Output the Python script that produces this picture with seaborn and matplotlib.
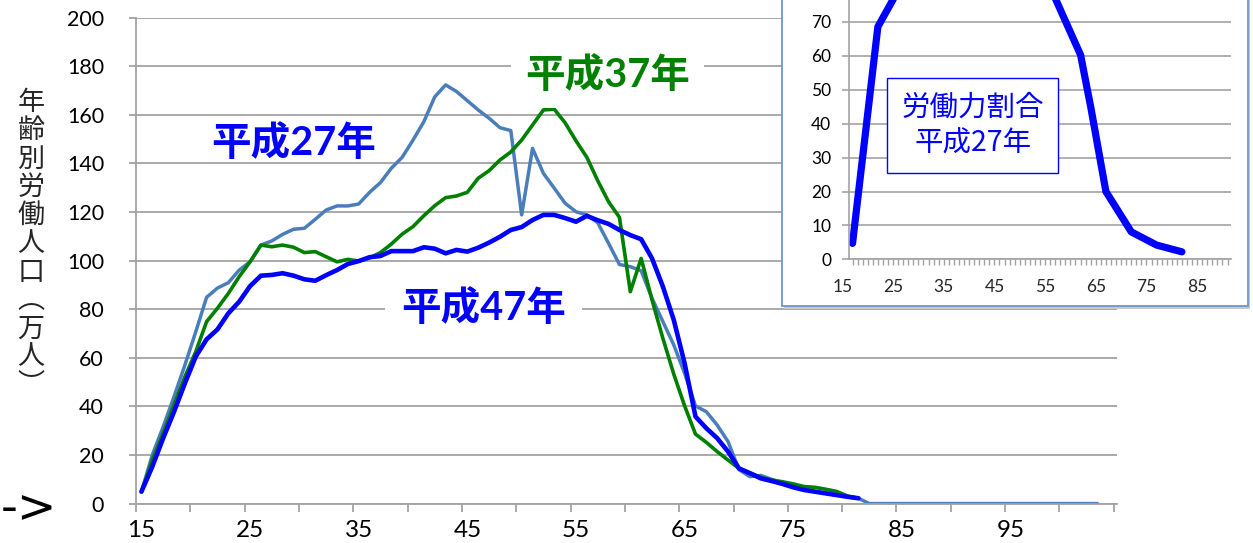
import numpy as np
import matplotlib
matplotlib.use("Agg")
import matplotlib.pyplot as plt
import seaborn as sns
from matplotlib.patches import Rectangle

# ---------------- data ----------------
ages_h27 = np.arange(15, 104)
ages_h37 = np.arange(15, 82)
ages_h47 = np.arange(15, 82)

pop_h27 = [4.9, 20.0, 31.6, 44.0, 57.0, 70.7, 84.9, 88.7, 90.9, 96.1,
           99.5, 106.4, 108.1, 110.8, 112.9, 113.3, 117.0, 120.8, 122.5, 122.5,
           123.3, 128.1, 132.1, 138.0, 142.5, 149.6, 157.2, 167.4, 172.3, 169.6,
           165.8, 162.0, 158.6, 154.7, 153.5, 118.8, 146.2, 135.9, 129.8, 123.6,
           120.1, 118.8, 115.6, 107.1, 98.4, 97.5, 95.8, 84.5, 74.9, 65.3,
           53.6, 40.2, 37.8, 32.3, 25.5, 14.0, 11.1, 11.6, 10.0, 8.6,
           7.2, 5.9, 4.9, 4.2, 3.5, 2.8, 2.2,
           0, 0, 0, 0, 0, 0, 0, 0, 0, 0, 0, 0, 0, 0, 0, 0, 0, 0, 0, 0, 0, 0]

pop_h37 = [4.9, 17.9, 28.9, 40.6, 52.2, 62.5, 74.9, 80.4, 86.5, 93.4,
           99.5, 106.4, 105.7, 106.4, 105.5, 103.3, 103.7, 101.6, 99.5, 100.5,
           99.8, 101.1, 103.3, 106.8, 110.9, 114.0, 118.5, 122.6, 125.9, 126.6,
           128.1, 133.9, 137.0, 141.4, 144.7, 149.6, 155.8, 162.0, 162.3, 156.7,
           149.3, 142.5, 132.9, 124.2, 117.8, 87.2, 100.9, 83.8, 68.0, 53.3,
           40.2, 28.6, 25.2, 21.4, 17.9, 14.5, 12.7, 10.8, 9.7, 9.0,
           8.1, 7.0, 6.7, 5.9, 5.0, 3.1, 2.2]

pop_h47 = [4.9, 15.2, 26.9, 37.8, 49.5, 60.5, 67.6, 71.7, 78.3, 83.1,
           89.5, 93.8, 94.1, 94.8, 93.8, 92.3, 91.7, 94.0, 96.1, 98.6,
           99.8, 101.4, 101.9, 103.9, 103.9, 103.9, 105.5, 104.9, 103.0, 104.4,
           103.7, 105.3, 107.4, 109.8, 112.6, 113.8, 116.7, 118.8, 118.8, 117.5,
           116.0, 118.4, 116.6, 115.1, 112.6, 110.5, 108.8, 100.9, 89.3, 75.6,
           57.7, 35.8, 31.0, 26.9, 21.4, 14.5, 12.5, 10.4, 9.3, 8.1,
           6.7, 5.6, 4.9, 4.2, 3.5, 2.8, 2.2]

rate_ages = [17, 22, 27, 32, 37, 42, 47, 52, 57, 62, 64, 67, 72, 77, 82]
rate_h27 = [4.7, 68.6, 82, 80, 80, 83, 85, 84, 77, 60.3, 45, 20, 8.1, 4.2, 2.2]

x_labels = [15, 25, 35, 45, 55, 65, 75, 85, 95]
y_ticks = list(range(0, 201, 20))
inset_x_labels = [15, 25, 35, 45, 55, 65, 75, 85]
inset_y_ticks = list(range(0, 71, 10))   # ticks above 70 fall outside the figure

series_names = ["平成27年", "平成37年", "平成47年"]
y_label = "年齢別労働人口︵万人︶"
inset_label = "労働力割合\n平成27年"
arrow_text = "->"

# ---------------- style ----------------
sns.set_style("white")
plt.rcParams["font.family"] = ["Lato", "Noto Sans CJK JP", "DejaVu Sans"]

C_H27 = "#4A7EBB"
C_H37 = "#008000"
C_H47 = "#0000FF"
GRID = "#A3A3A3"

W, H = 1253, 543
fig = plt.figure(figsize=(W / 100, H / 100), dpi=100)


def fx(px):
    return px / W


def fy(py):
    return 1 - py / H


# ---------------- main axes ----------------
ax = fig.add_axes([fx(136), fy(503.6), fx(1117) - fx(136), fy(17.6) - fy(503.6)], zorder=0)
sns.lineplot(x=ages_h27, y=pop_h27, color=C_H27, lw=2.5, ax=ax)
sns.lineplot(x=ages_h37, y=pop_h37, color=C_H37, lw=2.6, ax=ax)
sns.lineplot(x=ages_h47, y=pop_h47, color=C_H47, lw=3.3, ax=ax)

ax.set_xlim(14.5, 104.8)
ax.set_ylim(0, 200)
ax.set_yticks(y_ticks)
ax.set_xticks(x_labels)
ax.set_xticks(np.arange(14.5, 105, 5), minor=True)
ax.set_xticklabels([str(v) for v in x_labels])
ax.set_xlabel("")
ax.set_ylabel("")
ax.yaxis.grid(True, color=GRID, lw=1.3)
ax.xaxis.grid(False)
ax.set_axisbelow(True)
for s in ["top", "right"]:
    ax.spines[s].set_visible(False)
for s in ["left", "bottom"]:
    ax.spines[s].set_color(GRID)
    ax.spines[s].set_linewidth(1.3)
ax.tick_params(axis="y", which="major", left=True, length=5, width=1.3, color=GRID,
               pad=18, labelsize=15.5, labelcolor="black")
ax.tick_params(axis="x", which="major", bottom=True, length=0, pad=12,
               labelsize=17.5, labelcolor="black")
ax.tick_params(axis="x", which="minor", bottom=True, length=6, width=1.3, color=GRID)

# series labels
ax.text(29.05, 148.4, series_names[0], color=C_H47, fontsize=28.5, fontweight="bold",
        ha="center", va="center")
ax.text(57.9, 176.4, series_names[1], color=C_H37, fontsize=28.5, fontweight="bold",
        ha="center", va="center",
        bbox=dict(boxstyle="square,pad=0.35", fc="white", ec="none"))
ax.text(46.5, 80.5, series_names[2], color=C_H47, fontsize=28.5, fontweight="bold",
        ha="center", va="center",
        bbox=dict(boxstyle="square,pad=0.4", fc="white", ec="none"))

# vertical y label
fig.text(fx(31), fy(244), "\n".join(y_label), fontsize=19.5, ha="center", va="center",
         linespacing=1.06, family=["Noto Sans CJK JP", "DejaVu Sans"])

# arrow fragment bottom-left
fig.text(fx(0.5), fy(510), arrow_text, fontsize=34, ha="left", va="center",
         family=["DejaVu Sans"], color="black")

# ---------------- inset ----------------
shadow = Rectangle((fx(784), fy(309)), fx(1250) - fx(784), 0.8, transform=fig.transFigure,
                   fc="#C8C8C8", ec="none", zorder=2)
box = Rectangle((fx(781.5), fy(306)), fx(1248.3) - fx(781.5), 0.8, transform=fig.transFigure,
                fc="white", ec="#6F95CC", lw=1.3, zorder=3)
fig.add_artist(shadow)
fig.add_artist(box)

ax_in = fig.add_axes([fx(849.3), fy(259.3), fx(1230.7) - fx(849.3), 339 / H], zorder=5)
ax_in.patch.set_alpha(0)
sns.lineplot(x=rate_ages, y=rate_h27, color=C_H47, lw=5.2, ax=ax_in,
             solid_capstyle="round", solid_joinstyle="round")
ax_in.set_xlim(16.36, 91.63)
ax_in.set_ylim(0, 100)
ax_in.set_yticks(inset_y_ticks)
ax_in.set_xticks([])
ax_in.set_xticks(np.arange(17, 92, 1), minor=True)
ax_in.set_xlabel("")
ax_in.set_ylabel("")
ax_in.yaxis.grid(True, color=GRID, lw=1.2)
ax_in.set_axisbelow(True)
for s in ["top", "right"]:
    ax_in.spines[s].set_visible(False)
for s in ["left", "bottom"]:
    ax_in.spines[s].set_color(GRID)
    ax_in.spines[s].set_linewidth(1.2)
ax_in.tick_params(axis="y", which="major", left=True, length=5, width=1.2, color=GRID,
                  pad=8, labelsize=12.5, labelcolor="black")
ax_in.tick_params(axis="x", which="minor", bottom=True, length=4, width=1.0, color=GRID)
xt = ax_in.get_xaxis_transform()
for v in inset_x_labels:
    ax_in.text(v, -0.057, str(v), transform=xt, ha="center", va="top",
               fontsize=12.5, clip_on=False)

ax_in.text(40.7, 39.5, inset_label, color=C_H47, fontsize=20.5, ha="center", va="center",
           linespacing=1.25, family=["Noto Sans CJK JP", "DejaVu Sans"],
           bbox=dict(boxstyle="square,pad=0.5", fc="white", ec=C_H47, lw=1.0))

fig.savefig("out.png", dpi=100)
